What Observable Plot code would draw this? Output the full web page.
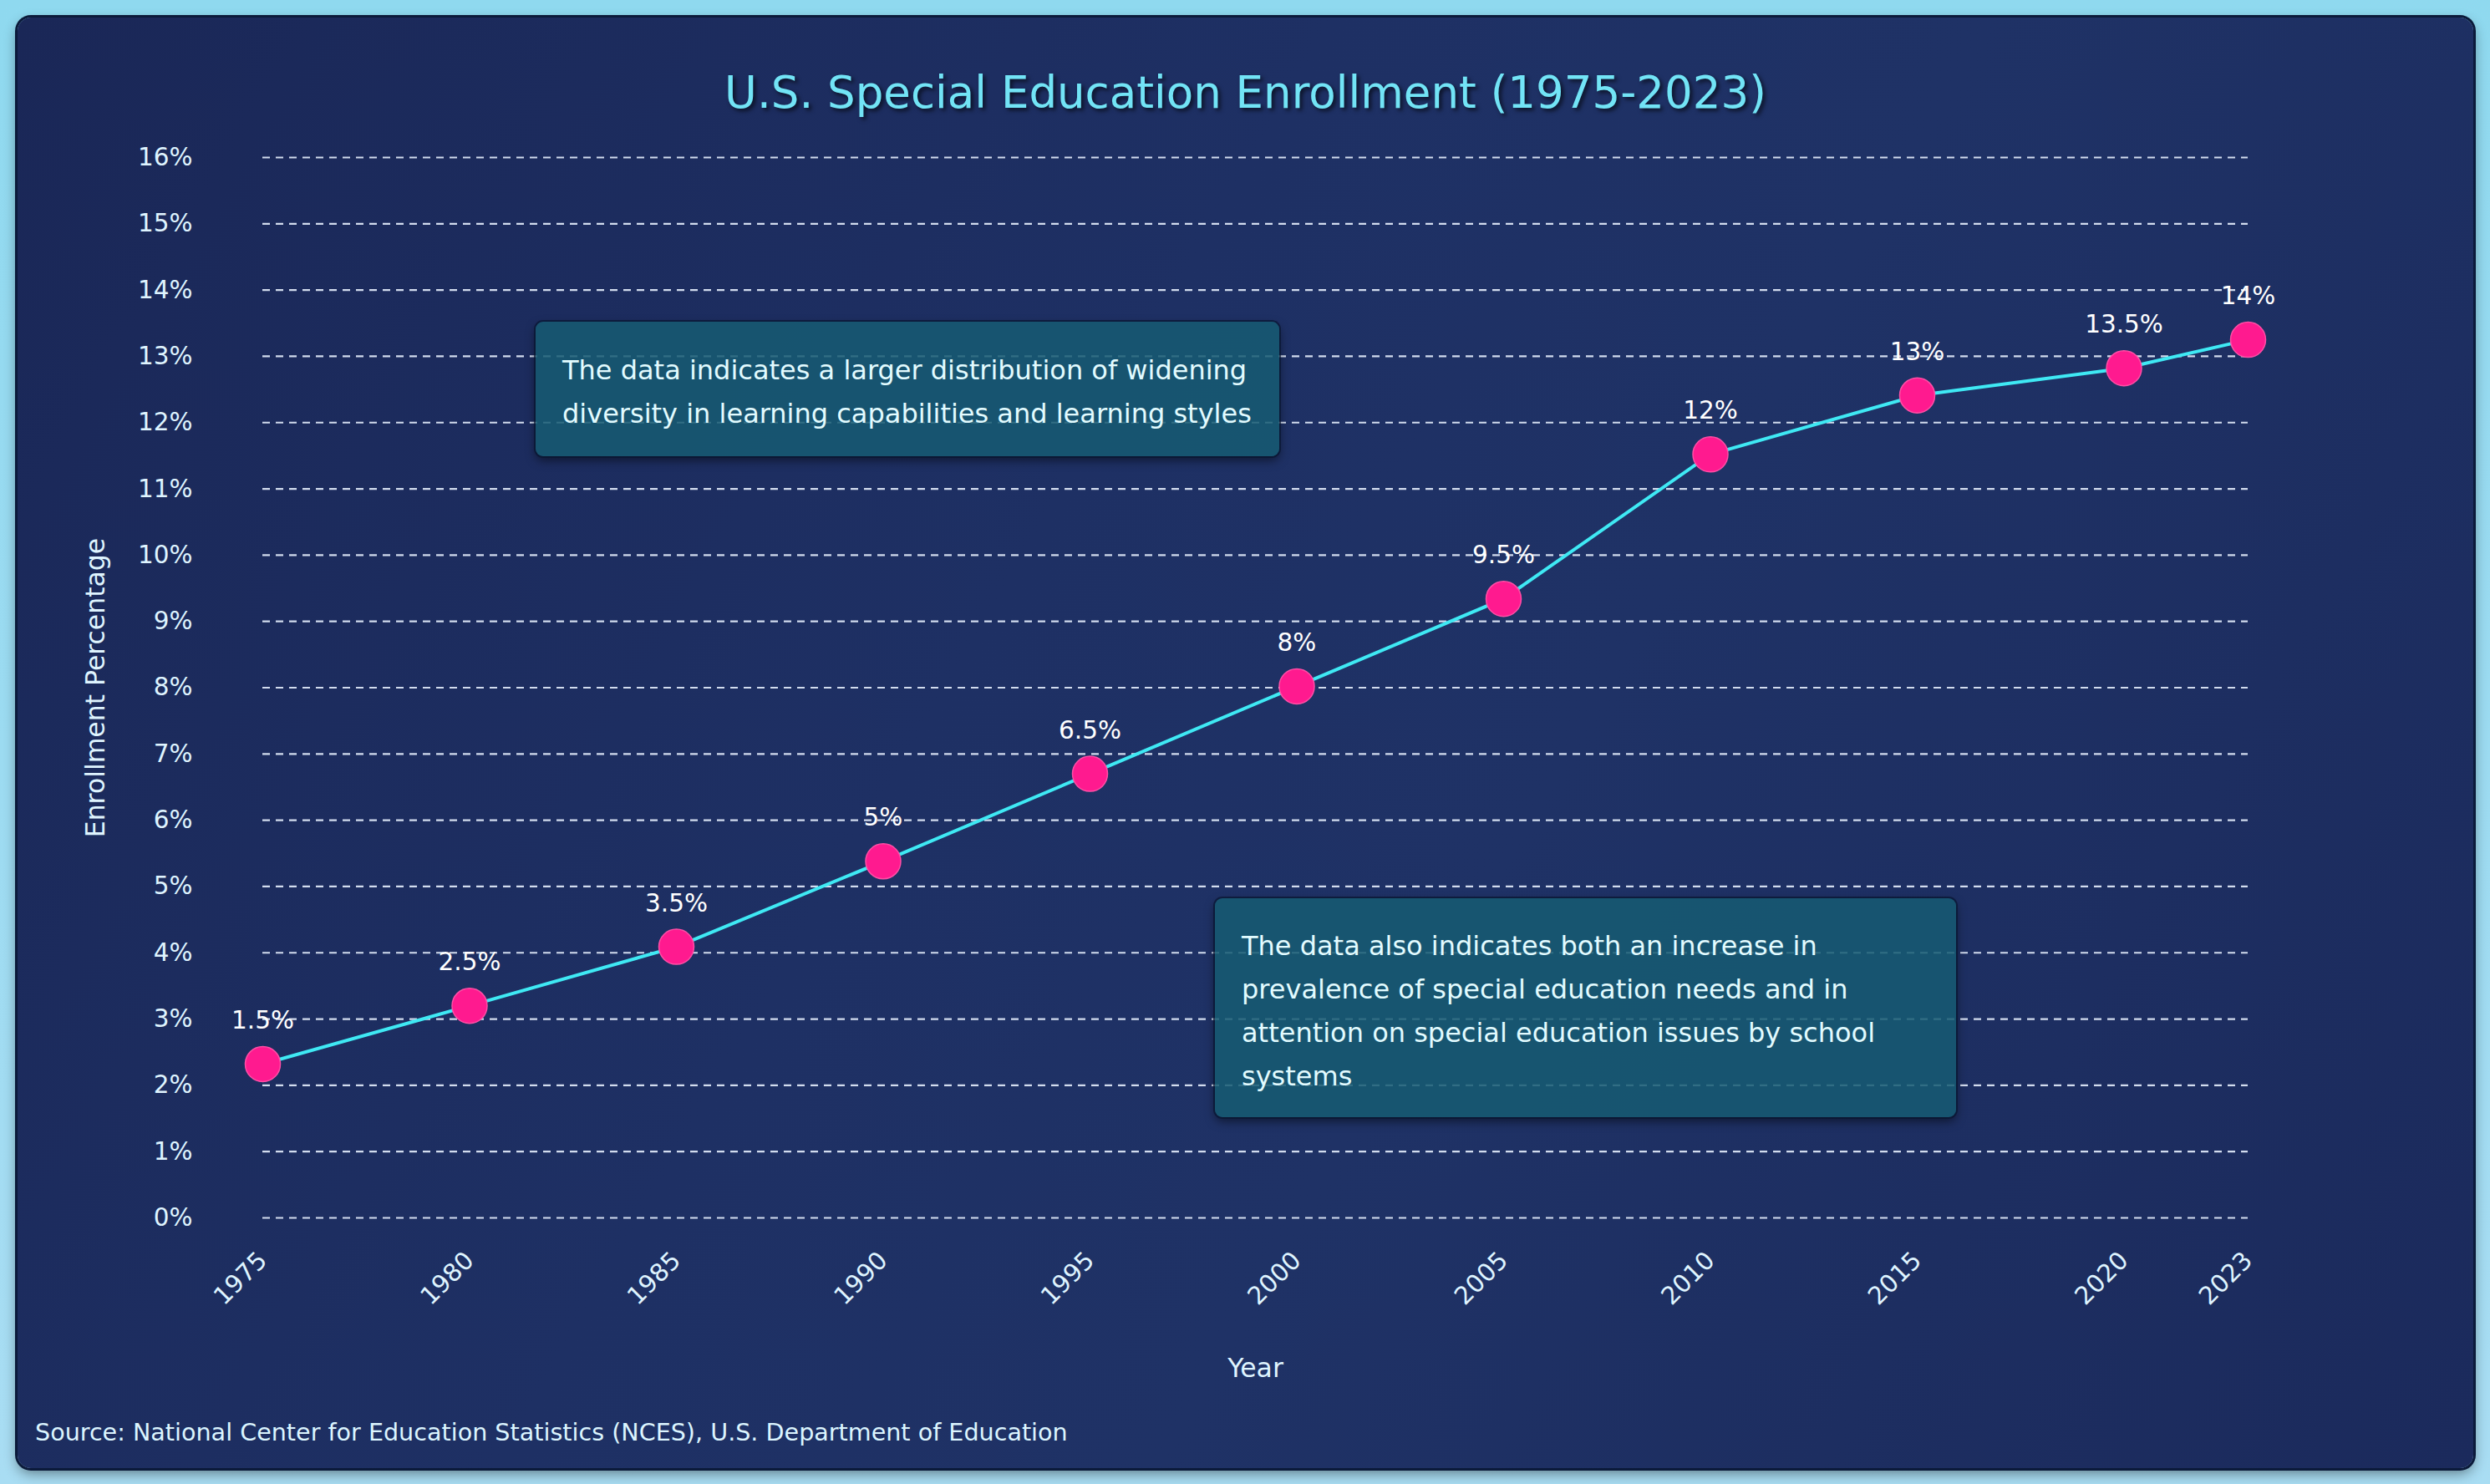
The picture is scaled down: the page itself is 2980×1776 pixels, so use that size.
<!DOCTYPE html>
<html>
<head>
<meta charset="utf-8">
<script src="https://cdn.jsdelivr.net/npm/d3@7"></script>
<script src="https://cdn.jsdelivr.net/npm/@observablehq/plot@0.6"></script>
<style>
  html, body { margin: 0; padding: 0; width: 2980px; height: 1776px; overflow: hidden; }
  body { background: linear-gradient(180deg, #8fd9ef 0%, #9cdbf1 50%, #a9ddf3 100%); font-family: "DejaVu Sans", sans-serif; position: relative; }
  #card { position: absolute; left: 21px; top: 21px; width: 2939px; height: 1736px; border-radius: 16px;
    background: linear-gradient(120deg, #1a2757 0%, #1e3064 40%, #1f3266 60%, #1b2a5c 100%);
    box-shadow: 0 0 0 3px #0b1a3a, 0 6px 16px rgba(0,0,0,0.45); overflow: hidden; }
  #title { position: absolute; left: 0; width: 100%; top: 58px; text-align: center; font-size: 53px; line-height: 64px;
    color: #72e4f6; text-shadow: 3px 3px 5px rgba(0,0,0,0.65); }
  #chart { position: absolute; left: 0; top: 119px; }
  #source { position: absolute; left: 21px; top: 1674px; font-size: 28.6px; line-height: 38px; color: #dcf5ff; }
  .note { position: absolute; background: rgba(22, 91, 114, 0.86); border-radius: 9px; box-sizing: border-box;
    box-shadow: 0 0 0 2px rgba(8,22,48,0.7), 0 5px 12px rgba(0,0,0,0.5); color: #e2fbff; font-size: 32px; line-height: 52px; white-space: nowrap; }
</style>
</head>
<body>
<div id="card">
  <div id="title">U.S. Special Education Enrollment (1975-2023)</div>
  <div id="chart"></div>
  <div class="note" id="note1"></div>
  <div class="note" id="note2"></div>
  <div id="source"></div>
</div>
<script>
// ---- data ----
const years = [1975, 1980, 1985, 1990, 1995, 2000, 2005, 2010, 2015, 2020, 2023];
// vertical position of each point against the % axis, as drawn
const plotted = [2.32, 3.20, 4.09, 5.38, 6.70, 8.02, 9.34, 11.52, 12.41, 12.82, 13.25];
// value labels printed above each point
const labelValues = [1.5, 2.5, 3.5, 5, 6.5, 8, 9.5, 12, 13, 13.5, 14];
const yTicks = [0, 1, 2, 3, 4, 5, 6, 7, 8, 9, 10, 11, 12, 13, 14, 15, 16];
const xTicks = [1975, 1980, 1985, 1990, 1995, 2000, 2005, 2010, 2015, 2020, 2023];
const note1Lines = ["The data indicates a larger distribution of widening", "diversity in learning capabilities and learning styles"];
const note2Lines = ["The data also indicates both an increase in", "prevalence of special education needs and in", "attention on special education issues by school", "systems"];
const sourceText = "Source: National Center for Education Statistics (NCES), U.S. Department of Education";

const rows = years.map((y, i) => ({year: y, value: plotted[i], label: labelValues[i] + "%"}));

const tickColor = "#dff4ff";

const chart = Plot.plot({
  width: 2939,
  height: 1540,
  marginLeft: 293,
  marginRight: 270,
  marginTop: 48,
  marginBottom: 223,
  style: {background: "transparent", fontFamily: "DejaVu Sans, sans-serif", color: tickColor, overflow: "visible"},
  x: {domain: [1975, 2023]},
  y: {domain: [0, 16]},
  marks: [
    Plot.ruleY(yTicks, {stroke: "#dce6f5", strokeWidth: 2.2, strokeDasharray: "9,7", strokeOpacity: 0.95}),
    Plot.axisY({ticks: yTicks, tickFormat: d => d + "%", tickSize: 0, tickPadding: 84, fontSize: 29.5, fill: tickColor, label: null}),
    Plot.axisX({ticks: xTicks, tickFormat: d => String(d), tickRotate: -45, tickSize: 0, tickPadding: 46, fontSize: 29.5, fill: tickColor, label: null}),
    Plot.text(["Enrollment Percentage"], {frameAnchor: "left", textAnchor: "middle", dx: -200, rotate: -90, fontSize: 31.5, fill: tickColor}),
    Plot.text(["Year"], {frameAnchor: "bottom", dy: 190, fontSize: 31.5, fill: tickColor}),
    Plot.line(rows, {x: "year", y: "value", stroke: "#3fe9f4", strokeWidth: 4}),
    Plot.dot(rows, {x: "year", y: "value", r: 21, fill: "#ff1a8f", stroke: "#ff4fa6", strokeWidth: 1.5}),
    Plot.text(rows, {x: "year", y: "value", text: "label", dy: -52, fontSize: 29.5, fill: "#ffffff"})
  ]
});
document.getElementById("chart").appendChild(chart);

function fillNote(id, lines, left, top, width, height, padTop) {
  const el = document.getElementById(id);
  el.style.left = left + "px"; el.style.top = top + "px";
  el.style.width = width + "px"; el.style.height = height + "px";
  el.style.paddingLeft = "32px"; el.style.paddingTop = padTop + "px";
  el.innerHTML = lines.join("<br>");
}
// page coords minus card offset (21)
fillNote("note1", note1Lines, 620, 364, 890, 161, 32);
fillNote("note2", note2Lines, 1433, 1054, 887, 262, 31);
document.getElementById("source").textContent = sourceText;
</script>
</body>
</html>
